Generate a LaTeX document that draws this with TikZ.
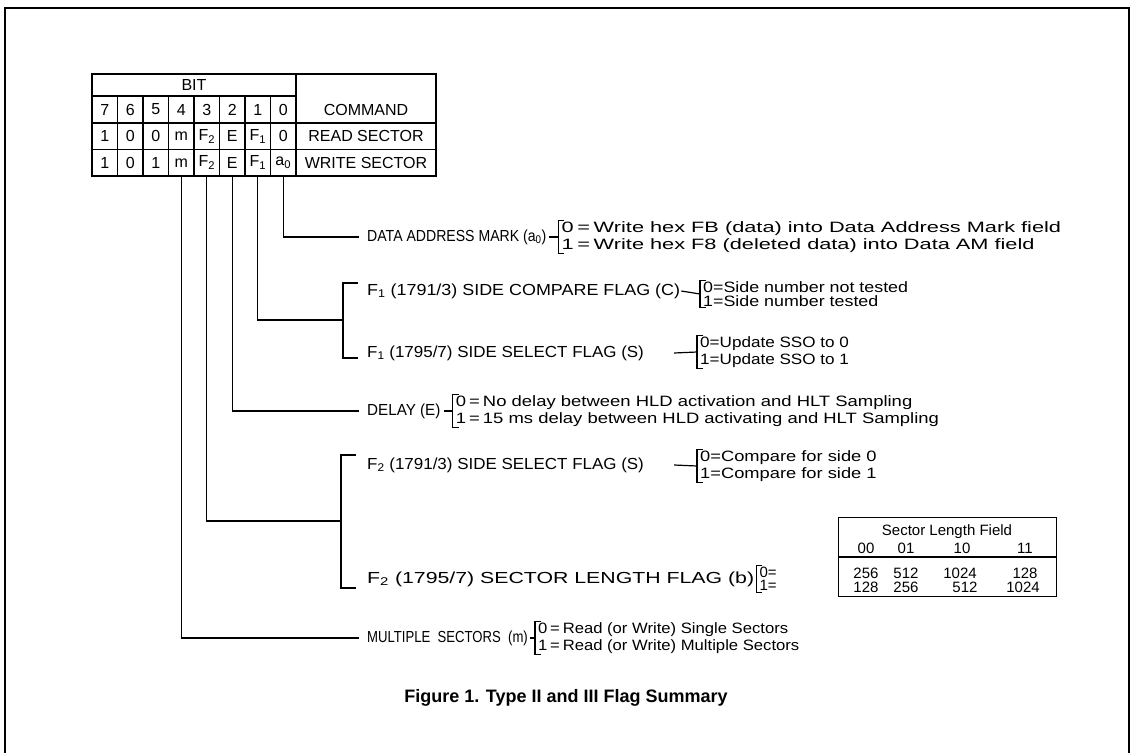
\documentclass[tikz,border=0pt]{standalone}
\usepackage{fontspec}
\usepackage{graphicx}
\setmainfont{Liberation Sans}
\usetikzlibrary{positioning}

% bracket in front of a two-line value node
\newcommand\valbrack[1]{%
  \draw[lnk] ([xshift=6]#1.north west) -- (#1.north west) -- (#1.south west) -- ([xshift=6]#1.south west);}
% widen or narrow a piece of text
\newcommand\wide[2]{\scalebox{#1}[1]{#2}}
\newcommand\twol[2]{\shortstack[l]{#1\\#2}}

\begin{document}
\begin{tikzpicture}[x=1pt, y=-1pt,
    lnk/.style={line width=1.2pt},
    cell/.style={font=\fontsize{16}{18}\selectfont, inner sep=0},
    lbl/.style={font=\fontsize{16}{18}\selectfont, anchor=west, inner sep=0},
    val/.style={font=\fontsize{15}{14.5}\selectfont, anchor=west, align=left,
                inner ysep=1pt, inner xsep=3pt},
    num/.style={font=\fontsize{15}{16}\selectfont, inner sep=0}]

    \useasboundingbox (0,0) rectangle (1132,752);
    \draw[line width=2.2pt] (5,760) -- (5,8) -- (1129,8) -- (1129,760);

    % command table
    \draw[lnk] (92,74) rectangle (436,176);
    \draw[lnk] (92,96) -- (296,96);
    \draw[lnk] (92,123) -- (436,123);
    \draw[lnk] (92,149.5) -- (436,149.5);
    \draw[lnk] (296,74) -- (296,176);
    \foreach \i in {1,...,7}
        \draw[lnk] ({92+25.5*\i},96) -- ({92+25.5*\i},176);
    \node[cell] (bit) at (194,85) {BIT};
    \foreach \t [count=\i from 0] in {7,6,5,4,3,2,1,0}
        \node[cell] (h\i) at ({92+25.5*(\i+0.5)},109.5) {\t};
    \foreach \t [count=\i from 0] in {1,0,0,m,F\textsubscript{2},E,F\textsubscript{1},0}
        \node[cell] (r\i) at ({92+25.5*(\i+0.5)},136.2) {\t};
    \foreach \t [count=\i from 0] in {1,0,1,m,F\textsubscript{2},E,F\textsubscript{1},a\textsubscript{0}}
        \node[cell] (w\i) at ({92+25.5*(\i+0.5)},162.7) {\t};
    \node[cell] (cmd)  at (366,109.5) {COMMAND};
    \node[cell] (rdsc) at (366,136.2) {READ SECTOR};
    \node[cell] (wrsc) at (366,162.7) {WRITE SECTOR};
    \coordinate (tb) at (0,176);

    % flag labels
    \node[lbl] (damL) at (367,237) {\wide{0.88}{DATA ADDRESS MARK (a\textsubscript{0})}};
    \node[lbl] (scfL) at (367,291) {\wide{1.12}{F\textsubscript{1} (1791/3) SIDE COMPARE FLAG (C)}};
    \node[lbl] (ssfL) at (367,353) {\wide{1.06}{F\textsubscript{1} (1795/7) SIDE SELECT FLAG (S)}};
    \node[lbl] (dlyL) at (367,411) {\wide{0.95}{DELAY (E)}};
    \node[lbl] (s2fL) at (367,465) {\wide{1.06}{F\textsubscript{2} (1791/3) SIDE SELECT FLAG (S)}};
    \node[lbl] (slfL) at (367,579) {\wide{1.33}{F\textsubscript{2} (1795/7) SECTOR LENGTH FLAG (b)}};
    \node[lbl] (mulL) at (367,638) {\wide{0.82}{MULTIPLE\ \ SECTORS\ \ (m)}};

    % flag values
    \node[val, right=12 of damL] (damV) {\wide{1.45}{\twol{0\,=\,Write hex FB (data) into Data Address Mark field}{1\,=\,Write hex F8 (deleted data) into Data AM field}}};
    \node[val] (scfV) at (700,294) {\wide{1.19}{\twol{0=Side number not tested}{1=Side number tested}}};
    \node[val] (ssfV) at (697,352) {\wide{1.14}{\twol{0=Update SSO to 0}{1=Update SSO to 1}}};
    \node[val, right=12 of dlyL] (dlyV) {\wide{1.23}{\twol{0\,=\,No delay between HLD activation and HLT Sampling}{1\,=\,15 ms delay between HLD activating and HLT Sampling}}};
    \node[val] (s2fV) at (697,466) {\wide{1.22}{\twol{0=Compare for side 0}{1=Compare for side 1}}};
    \node[val, right=2 of slfL] (slfV) {\twol{0=}{1=}};
    \node[val, right=7 of mulL] (mulV) {\wide{1.11}{\twol{0\,=\,Read (or Write) Single Sectors}{1\,=\,Read (or Write) Multiple Sectors}}};
    \foreach \v in {damV,scfV,ssfV,dlyV,s2fV,slfV,mulV}
        {\valbrack{\v}}

    % label to bracket
    \draw[lnk] ([xshift=3]damL.east) -- (damV.west);
    \draw[lnk] ([xshift=1]scfL.east) -- (scfV.west);
    \draw[lnk] ([xshift=30]ssfL.east) -- (ssfV.west);
    \draw[lnk] ([xshift=3]dlyL.east) -- (dlyV.west);
    \draw[lnk] ([xshift=30]s2fL.east) -- (s2fV.west);
    \draw[lnk] ([xshift=2]mulL.east) -- (mulV.west);

    % sector length field table
    \node[draw, lnk, minimum width=218, minimum height=79, anchor=north west] (slbox) at (838,517) {};
    \node[num] (slttl) at (947,532) {Sector Length Field};
    \draw[lnk] (slbox.west |- 0,557) -- (slbox.east |- 0,557);
    \foreach \h/\x in {00/866,01/906,10/962,11/1025}
        \node[num] (c\h) at (\x,548) {\h};
    \foreach \v/\x [count=\i] in {256/866,512/906,1024/960,128/1025}
        \node[num] (z\i) at (\x,573) {\v};
    \foreach \v/\x [count=\i] in {128/866,256/906,512/965,1024/1023}
        \node[num] (o\i) at (\x,587) {\v};

    % bit lines down to the labels
    \coordinate (f1br) at (343,320);
    \coordinate (f1t) at (343,283);
    \coordinate (f1b) at (343,358);
    \coordinate (f2br) at (341,521);
    \coordinate (f2t) at (341,455);
    \coordinate (f2b) at (341,588);
    \draw[lnk] (w7 |- tb) |- ([xshift=-8]damL.west);
    \draw[lnk] (w6 |- tb) |- (f1br);
    \draw[lnk] ([xshift=15]f1t) -- (f1t) -- (f1b) -- ([xshift=15]f1b);
    \draw[lnk] (w5 |- tb) |- ([xshift=-8]dlyL.west);
    \draw[lnk] (w4 |- tb) |- (f2br);
    \draw[lnk] ([xshift=15]f2t) -- (f2t) -- (f2b) -- ([xshift=15]f2b);
    \draw[lnk] (w3 |- tb) |- ([xshift=-8]mulL.west);

    \node[font=\bfseries\fontsize{18}{21}\selectfont] (cap) at (566,698) {Figure 1. Type II and III Flag Summary};
\end{tikzpicture}
\end{document}
